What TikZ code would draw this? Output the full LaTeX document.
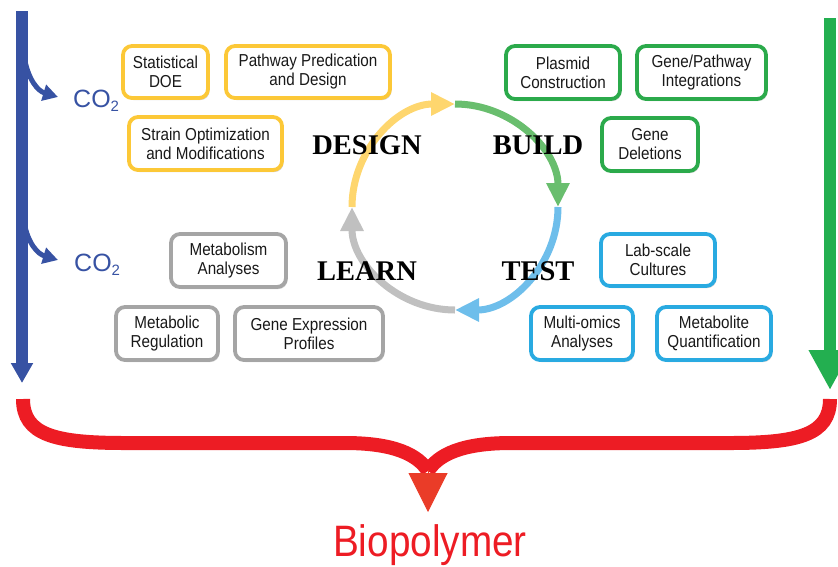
\documentclass[tikz,border=0pt]{standalone}
\usepackage{fontspec}
\setmainfont{Liberation Sans}
\newfontfamily\boxfont[FakeStretch=0.88]{Liberation Sans}
\newfontfamily\cyclefont{Liberation Serif}
\usetikzlibrary{arrows.meta,shadows}
\definecolor{cYel}{RGB}{252,200,55}
\definecolor{cGrn}{RGB}{43,170,75}
\definecolor{cBlu}{RGB}{41,170,225}
\definecolor{cGry}{RGB}{165,165,165}
\definecolor{aYel}{RGB}{254,214,110}
\definecolor{aGrn}{RGB}{105,190,110}
\definecolor{aBlu}{RGB}{110,190,235}
\definecolor{aGry}{RGB}{192,192,192}
\definecolor{mBlu}{RGB}{55,82,163}
\definecolor{mGrn}{RGB}{35,175,80}
\definecolor{mRed}{RGB}{237,28,36}
\definecolor{mOrg}{RGB}{234,60,40}
\definecolor{txt}{RGB}{25,25,25}
\begin{document}
\begin{tikzpicture}[x=1pt,y=1pt,
  box/.style={draw, fill=white, rounded corners=9pt, line width=3.8pt,
    align=center, text=txt, inner sep=0pt,
    font=\boxfont\fontsize{17.3}{19}\selectfont,
    drop shadow={shadow xshift=1.5pt, shadow yshift=-2pt, opacity=0.3, fill=black!60}},
  ybox/.style={box, draw=cYel},
  gbox/.style={box, draw=cGrn},
  bbox/.style={box, draw=cBlu},
  kbox/.style={box, draw=cGry},
  arcline/.style={line width=7pt, -{Triangle[length=24pt,width=22pt]}},
  phase/.style={font=\cyclefont\bfseries\fontsize{28.5}{28.5}\selectfont, text=black, anchor=base, inner sep=0pt},
  co2/.style={font=\fontsize{25}{25}\selectfont, text=mBlu, anchor=base west, inner sep=0pt},
  branch/.style={mBlu, line width=5pt, -{Triangle[length=15pt,width=16pt]}},
  bracepath/.style={mRed, line width=14pt}
]
\useasboundingbox (0,0) rectangle (838,-566);

% main side arrows
\coordinate (bTop) at (22,-11);
\coordinate (bTip) at (22,-383);
\coordinate (gTop) at (830,-18);
\coordinate (gTip) at (830,-390);
\draw[mBlu, line width=12pt, -{Triangle[length=20pt,width=21pt]}] (bTop) -- (bTip);
\draw[mGrn, line width=12.5pt, -{Triangle[length=40pt,width=40pt]}] (gTop) -- (gTip);

% CO2 branches
\node[co2] (co2a) at (73,-107) {CO\raisebox{-4.5pt}{\fontsize{15}{15}\selectfont 2}};
\node[co2] (co2b) at (74,-271) {CO\raisebox{-4.5pt}{\fontsize{15}{15}\selectfont 2}};
\coordinate (br1) at (24,-56);
\coordinate (t1) at (58,-97);
\coordinate (br2) at (24,-222);
\coordinate (t2) at (58,-260);
\draw[branch] (br1) .. controls (28,-80) and (38,-91) .. (t1);
\draw[branch] (br2) .. controls (28,-244) and (38,-254) .. (t2);

% cycle
\coordinate (cT) at (455,-104);
\coordinate (cR) at (558,-207);
\coordinate (cB) at (455,-310);
\coordinate (cL) at (352,-207);
\draw[arcline, aYel] (cL) arc[start angle=180, end angle=90, radius=103];
\draw[arcline, aGrn] (cT) arc[start angle=90, end angle=0, radius=103];
\draw[arcline, aBlu] (cR) arc[start angle=0, end angle=-90, radius=103];
\draw[arcline, aGry] (cB) arc[start angle=-90, end angle=-180, radius=103];

\node[phase] (design) at (367,-154) {DESIGN};
\node[phase] (build) at (538,-154) {BUILD};
\node[phase] (learn) at (367,-280) {LEARN};
\node[phase] (test) at (538,-280) {TEST};

% boxes
\node[ybox, minimum width=85, minimum height=52] (sdoe) at (165.5,-72) {Statistical\\DOE};
\node[ybox, minimum width=164, minimum height=52] (ppd) at (308,-72) {Pathway Predication\\and Design};
\node[ybox, minimum width=153, minimum height=53] (som) at (205.5,-143.5) {Strain Optimization\\and Modifications};

\node[gbox, minimum width=114, minimum height=53] (pc) at (563,-72.5) {Plasmid\\Construction};
\node[gbox, minimum width=129, minimum height=53] (gpi) at (701.5,-72.5) {Gene/Pathway\\Integrations};
\node[gbox, minimum width=96, minimum height=53] (gd) at (650,-144.5) {Gene\\Deletions};

\node[bbox, minimum width=114, minimum height=52] (lsc) at (658,-260) {Lab-scale\\Cultures};
\node[bbox, minimum width=102, minimum height=53] (moa) at (582,-333.5) {Multi-omics\\Analyses};
\node[bbox, minimum width=114, minimum height=53] (mq) at (714,-333.5) {Metabolite\\Quantification};

\node[kbox, minimum width=115, minimum height=53] (ma) at (228.5,-260.5) {Metabolism\\Analyses};
\node[kbox, minimum width=102, minimum height=53] (mr) at (167,-333.5) {Metabolic\\Regulation};
\node[kbox, minimum width=148, minimum height=53] (gep) at (309,-333.5) {Gene Expression\\Profiles};

% brace
\coordinate (rL) at (23,-399);
\coordinate (rR) at (830,-399);
\coordinate (rM) at (428,-471);
\coordinate (rTip) at (428,-512);
\draw[bracepath] (rL) .. controls (23,-435) and (55,-443) .. (125,-443) -- (345,-443) .. controls (395,-443) and (418,-455) .. (rM);
\draw[bracepath] (rR) .. controls (830,-435) and (798,-443) .. (730,-443) -- (511,-443) .. controls (461,-443) and (438,-455) .. (rM);
\draw[mOrg, line width=1pt, -{Triangle[length=39pt,width=39pt]}] ([yshift=1pt]rM) -- (rTip);

\node[anchor=base, inner sep=0pt, text=mRed, font=\boxfont\fontsize{44}{44}\selectfont] (bio) at (430,-556.5) {Biopolymer};
\end{tikzpicture}
\end{document}
